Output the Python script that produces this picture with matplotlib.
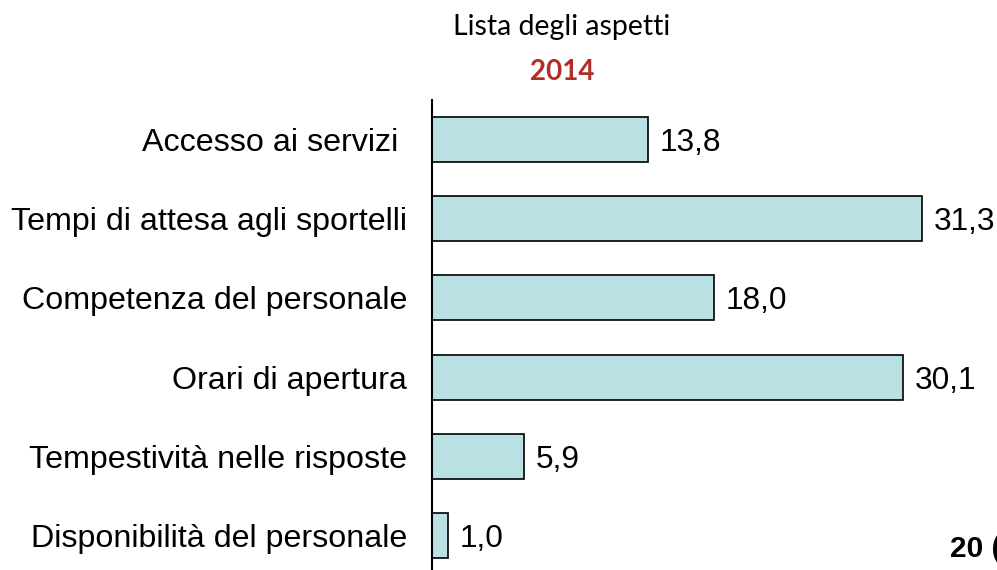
import matplotlib.pyplot as plt

# Data
categories = [
    "Accesso ai servizi ",
    "Tempi di attesa agli sportelli",
    "Competenza del personale",
    "Orari di apertura",
    "Tempestività nelle risposte",
    "Disponibilità del personale",
]
values = [13.8, 31.3, 18.0, 30.1, 5.9, 1.0]
value_labels = ["13,8", "31,3", "18,0", "30,1", "5,9", "1,0"]

W, H = 997, 570
fig = plt.figure(figsize=(W / 100, H / 100), dpi=100)

# axes placed in pixel terms: left edge at x=432, top at y=100, bottom clipped
ax = fig.add_axes([432 / W, -5 / H, 548 / W, 475 / H])

pos = list(range(len(categories)))
ax.barh(pos, values, height=0.57, color="#B9E0E2", edgecolor="black", linewidth=1.2)
ax.set_ylim(len(categories) - 0.5, -0.5)
ax.set_xlim(0, 35)

for p, v, lab in zip(pos, values, value_labels):
    ax.text(v + 0.75, p, lab, va="center_baseline", ha="left", fontsize=22.8,
            family="Liberation Sans", clip_on=False)

ax.set_yticks(pos)
ax.set_yticklabels(categories, fontsize=23.2, family="Liberation Sans")
ax.tick_params(axis="y", length=0, pad=18)
ax.set_xticks([])
for s in ["top", "right", "bottom"]:
    ax.spines[s].set_visible(False)
ax.spines["left"].set_linewidth(1.5)

fig.text(562 / W, 1 - 27 / H, "Lista degli aspetti", ha="center", va="center",
         fontsize=20.5, family="Lato")
fig.text(562 / W, 1 - 72 / H, "2014", ha="center", va="center",
         fontsize=20, family="Lato", fontweight="bold", color="#B22D26")
fig.text(950 / W, 1 - 549 / H, "20 (", ha="left", va="center",
         fontsize=21.5, family="Liberation Sans", fontweight="bold")

fig.savefig("out.png", dpi=100)
